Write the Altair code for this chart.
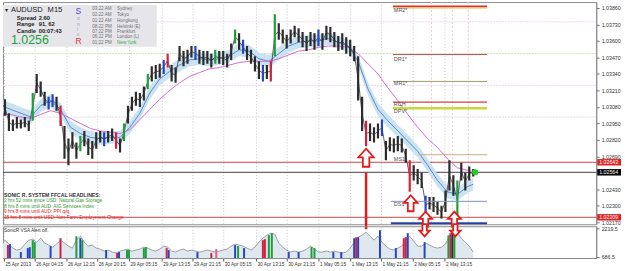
import altair as alt
import pandas as pd

FONT = "Liberation Sans"

# ---------------- price bars (15-min bars, sampled every 4 bars) ----------------
bar_x = list(range(0, 480, 4))
bar_hi = [1.0316, 1.0314, 1.0303, 1.0298, 1.0300, 1.0298, 1.0300, 1.0297, 1.0319, 1.0334,
          1.0328, 1.0320, 1.0316, 1.0318, 1.0316, 1.0309, 1.0293, 1.0283, 1.0288, 1.0280,
          1.0285, 1.0289, 1.0283, 1.0281, 1.0288, 1.0289, 1.0288, 1.0289, 1.0291, 1.0288,
          1.0283, 1.0295, 1.0309, 1.0316, 1.0320, 1.0319, 1.0324, 1.0334, 1.0340, 1.0341,
          1.0342, 1.0345, 1.0350, 1.0341, 1.0339, 1.0356, 1.0352, 1.0353, 1.0356, 1.0356,
          1.0353, 1.0352, 1.0352, 1.0350, 1.0353, 1.0352, 1.0352, 1.0350, 1.0358, 1.0369,
          1.0366, 1.0361, 1.0356, 1.0353, 1.0348, 1.0344, 1.0341, 1.0341, 1.0344, 1.0381,
          1.0374, 1.0369, 1.0365, 1.0369, 1.0372, 1.0370, 1.0367, 1.0364, 1.0367, 1.0366,
          1.0369, 1.0366, 1.0372, 1.0371, 1.0367, 1.0364, 1.0366, 1.0363, 1.0361, 1.0356,
          1.0348, 1.0316, 1.0297, 1.0295, 1.0292, 1.0295, 1.0298, 1.0281, 1.0284, 1.0283,
          1.0285, 1.0283, 1.0275, 1.0266, 1.0262, 1.0259, 1.0256, 1.0238, 1.0237, 1.0237,
          1.0233, 1.0230, 1.0242, 1.0266, 1.0254, 1.0250, 1.0264, 1.0256, 1.0261, 1.0259]
bar_lo = [1.0306, 1.0301, 1.0289, 1.0289, 1.0291, 1.0291, 1.0292, 1.0289, 1.0297, 1.0319,
          1.0316, 1.0309, 1.0306, 1.0308, 1.0305, 1.0293, 1.0267, 1.0262, 1.0275, 1.0267,
          1.0273, 1.0277, 1.0270, 1.0267, 1.0275, 1.0280, 1.0277, 1.0280, 1.0281, 1.0275,
          1.0272, 1.0281, 1.0295, 1.0305, 1.0309, 1.0308, 1.0313, 1.0322, 1.0328, 1.0330,
          1.0331, 1.0334, 1.0339, 1.0328, 1.0327, 1.0344, 1.0340, 1.0342, 1.0347, 1.0345,
          1.0342, 1.0341, 1.0342, 1.0339, 1.0342, 1.0342, 1.0341, 1.0339, 1.0345, 1.0358,
          1.0353, 1.0350, 1.0345, 1.0342, 1.0336, 1.0330, 1.0328, 1.0330, 1.0328, 1.0348,
          1.0361, 1.0358, 1.0354, 1.0358, 1.0363, 1.0359, 1.0355, 1.0352, 1.0356, 1.0353,
          1.0356, 1.0353, 1.0361, 1.0359, 1.0355, 1.0352, 1.0353, 1.0350, 1.0348, 1.0344,
          1.0313, 1.0289, 1.0277, 1.0281, 1.0280, 1.0283, 1.0285, 1.0266, 1.0273, 1.0272,
          1.0273, 1.0272, 1.0264, 1.0241, 1.0250, 1.0247, 1.0244, 1.0224, 1.0227, 1.0225,
          1.0223, 1.0220, 1.0225, 1.0242, 1.0238, 1.0220, 1.0250, 1.0242, 1.0250, 1.0253]
col_x = [32, 48, 52, 60, 80, 104, 116, 124, 148, 164, 168, 196, 216, 236, 244, 264, 272, 276,
         320, 368, 384, 412, 428, 460]
col_c = ["g", "b", "b", "r", "g", "b", "r", "g", "g", "b", "r", "b", "g", "g", "b", "b", "r", "g",
         "b", "r", "b", "r", "b", "g"]

# ---------------- moving-average band and slow MA ----------------
ma_x = list(range(0, 480, 10)) + [476]
band_mid = [1.0309, 1.0306, 1.0303, 1.0300, 1.0309, 1.0313, 1.0306, 1.0292, 1.0287, 1.0284,
            1.0283, 1.0284, 1.0284, 1.0292, 1.0303, 1.0319, 1.0330, 1.0336, 1.0341, 1.0345,
            1.0346, 1.0345, 1.0346, 1.0348, 1.0353, 1.0352, 1.0346, 1.0344, 1.0350, 1.0356,
            1.0359, 1.0360, 1.0360, 1.0362, 1.0359, 1.0356, 1.0344, 1.0322, 1.0306, 1.0297,
            1.0289, 1.0281, 1.0273, 1.0262, 1.0250, 1.0241, 1.0239, 1.0245, 1.0247]
band_top = [1.0314, 1.0311, 1.0308, 1.0305, 1.0314, 1.0318, 1.0311, 1.0297, 1.0292, 1.0289,
            1.0288, 1.0289, 1.0289, 1.0297, 1.0308, 1.0324, 1.0335, 1.0341, 1.0346, 1.0350,
            1.0351, 1.0350, 1.0351, 1.0353, 1.0358, 1.0357, 1.0351, 1.0349, 1.0355, 1.0361,
            1.0364, 1.0365, 1.0365, 1.0367, 1.0364, 1.0361, 1.0349, 1.0327, 1.0311, 1.0302,
            1.0294, 1.0286, 1.0278, 1.0267, 1.0255, 1.0246, 1.0244, 1.0250, 1.0252]
band_bot = [1.0304, 1.0301, 1.0298, 1.0295, 1.0304, 1.0308, 1.0301, 1.0287, 1.0282, 1.0279,
            1.0278, 1.0279, 1.0279, 1.0287, 1.0298, 1.0314, 1.0325, 1.0331, 1.0336, 1.0340,
            1.0341, 1.0340, 1.0341, 1.0343, 1.0348, 1.0347, 1.0341, 1.0339, 1.0345, 1.0351,
            1.0354, 1.0355, 1.0355, 1.0357, 1.0354, 1.0351, 1.0339, 1.0317, 1.0301, 1.0292,
            1.0284, 1.0276, 1.0268, 1.0257, 1.0245, 1.0236, 1.0234, 1.0240, 1.0242]
slow_ma = [1.0302, 1.0302, 1.0300, 1.0299, 1.0302, 1.0305, 1.0303, 1.0299, 1.0295, 1.0291,
           1.0289, 1.0288, 1.0287, 1.0290, 1.0298, 1.0306, 1.0314, 1.0321, 1.0327, 1.0332,
           1.0335, 1.0338, 1.0339, 1.0341, 1.0343, 1.0344, 1.0344, 1.0344, 1.0346, 1.0349,
           1.0352, 1.0353, 1.0355, 1.0356, 1.0356, 1.0355, 1.0350, 1.0342, 1.0334, 1.0323,
           1.0313, 1.0302, 1.0292, 1.0283, 1.0276, 1.0267, 1.0260, 1.0258, 1.0257]

# ---------------- pivot levels ----------------
lv_price = [1.03873, 1.03860, 1.03493, 1.03281, 1.03117, 1.03070, 1.02703, 1.02335, 1.02163]
lv_x0 = [395, 395, 395, 395, 395, 395, 422, 393, 393]
lv_x1 = [490, 490, 490, 490, 490, 490, 490, 490, 490]
lv_color = ["#e03030", "#d8c040", "#c05050", "#a09a60", "#d84040", "#c8d83a", "#c8b078", "#8090b8", "#2840a0"]
lv_width = [2, 1.2, 1, 1, 1.2, 2.5, 1, 1, 2]
lab_text = ["MR2*", "DR1*", "MR1*", "RCH", "DPV*", "MS1", "DS1"]
lab_price = [1.03844, 1.03461, 1.03266, 1.03102, 1.03047, 1.02671, 1.02312]
lab_x = [396, 396, 396, 396, 396, 396, 396]

full_price = [1.02643, 1.02564, 1.02209]
full_color = ["#c84848", "#404040", "#c84848"]
faint_price = [1.03751, 1.03500, 1.03250, 1.03000]
faint_color = ["#f2d2f0", "#c0e4b0", "#f2d2f0", "#dcdcdc"]
vsep_x = [434, 455, 471]

arrow_x = [368, 413, 428, 457]
arrow_p = [1.02679, 1.02320, 1.02194, 1.02194]
arrow_s = [330, 260, 230, 230]
signal_x = [368]
signal_p = [1.02564]
dot_x = [478]
dot_p = [1.02564]

box_price = [1.02643, 1.02564, 1.02209]
box_text = ["1.02643", "1.02564", "1.02209"]
box_color = ["#e02424", "#000000", "#e02424"]

y_ticks = [1.0386, 1.0373, 1.0360, 1.0347, 1.0334, 1.0321, 1.0308, 1.0295, 1.0282, 1.0269,
           1.0243, 1.0230, 1.0217]

# ---------------- volume panel ----------------
vol_x = list(range(0, 480, 4))
vol_v = [1267, 1585, 1373, 1161, 1056, 1109, 1373, 1585, 1638, 1479,
         1690, 1426, 1320, 1214, 1373, 1585, 1426, 1267, 1161, 1585,
         1796, 1479, 1267, 1320, 1161, 1109, 1003, 1056, 950, 897,
         1003, 1056, 1109, 1003, 1056, 1109, 1214, 1161, 1056, 1003,
         1109, 1267, 1214, 1003, 950, 1056, 1109, 1003, 1056, 1003,
         950, 1003, 1056, 1003, 950, 1003, 1056, 1109, 1267, 1373,
         1320, 1267, 1161, 1056, 1214, 1479, 1690, 1849, 1955, 1902,
         1426, 1214, 1056, 950, 1003, 950, 1003, 1109, 1267, 1109,
         950, 950, 1003, 950, 1003, 950, 897, 950, 1161, 1479,
         1743, 1849, 2008, 1796, 1585, 1796, 1479, 1267, 1109, 1056,
         1161, 1267, 1585, 1796, 1532, 1267, 1267, 1426, 1320, 1214,
         1161, 1214, 1373, 1796, 2061, 1955, 1690, 1479, 1267, 950]
vb_x = [7, 9, 20, 27, 29, 32, 34, 50, 60, 76, 80, 82, 106, 117, 119, 127, 129, 144, 146, 167,
        169, 198, 212, 217, 236, 239, 245, 264, 266, 270, 273, 290, 300, 313, 316, 335, 343,
        356, 358, 360, 382, 398, 406, 408, 410, 427, 451, 453, 455, 457]
vb_v = [1320, 1373, 950, 1161, 1214, 1585, 1479, 1267, 1690, 1796, 1690, 1585, 1056, 897, 950,
        1056, 1056, 1161, 1214, 1161, 1056, 950, 897, 1109, 1320, 1267, 1161, 1585, 1638, 1849,
        1955, 950, 950, 1214, 1161, 950, 950, 1690, 1743, 1743, 2114, 1161, 1690, 1743, 1955,
        1479, 1849, 1955, 2114, 2219]
vb_c = ["r", "b", "b", "b", "b", "g", "g", "b", "r", "g", "b", "g", "b", "r", "b", "g", "g", "g",
        "g", "r", "b", "b", "r", "p", "b", "g", "b", "r", "r", "g", "g", "b", "b", "g", "g", "b",
        "b", "b", "r", "b", "b", "b", "r", "r", "b", "b", "g", "r", "n", "g"]
vol_ticks = [686.5, 2219.5]
varrow_x = [427, 458]
varrow_v = [2113, 2113]

time_pos = [3, 34, 66, 97, 129, 162, 193, 224, 257, 288, 320, 352, 383, 415, 447]
time_lab = ["25 Apr 2013", "26 Apr 04:15", "26 Apr 12:15", "26 Apr 20:15", "29 Apr 05:15",
            "29 Apr 13:15", "29 Apr 21:15", "30 Apr 05:15", "30 Apr 13:15", "30 Apr 21:15",
            "1 May 05:15", "1 May 13:15", "1 May 21:15", "2 May 05:15", "2 May 13:15"]

headline_text = ["SONIC R. SYSTEM  FFCAL HEADLINES:",
                 "2 hrs 52 mins since USD: Natural Gas Storage",
                 "8 hrs 8 mins until AUD: AIG Services Index",
                 "9 hrs 8 mins until AUD: PPI q/q",
                 "15 hrs 8 mins until USD: Non-Farm Employment Change"]
headline_color = ["#333333", "#2f9a2f", "#2f9a2f", "#e02020", "#e02020"]

session_time = ["03:22 AM", "02:22 AM", "01:22 AM", "08:22 PM", "07:22 PM", "06:22 PM", "01:22 PM"]
session_city = ["Sydney", "Tokyo", "Hongkong", "Helsinki  (E)", "Frankfurt", "London  (L)", "New York"]

# ---------------- build ----------------
W, H, VH = 598, 224, 32
CMAP = {"n": "#2b2b2b", "g": "#1f9e3c", "b": "#2444c4", "r": "#d42040", "p": "#e2608a"}
xs = alt.Scale(domain=[2, 600], nice=False, zero=False)
ps = alt.Scale(domain=[1.02154, 1.03907], nice=False, zero=False)
vs = alt.Scale(domain=[633, 2325], nice=False, zero=False)

cmap_col = dict(zip(col_x, col_c))
bars = pd.DataFrame({"x": bar_x, "hi": bar_hi, "lo": bar_lo})
bars["c"] = [CMAP[cmap_col.get(x, "n")] for x in bar_x]
bars["mid"] = (bars["hi"] + bars["lo"]) / 2
ma = pd.DataFrame({"x": ma_x, "mid": band_mid, "top": band_top, "bot": band_bot, "slow": slow_ma})
lv = pd.DataFrame({"p": lv_price, "x0": lv_x0, "x1": lv_x1, "c": lv_color, "w": lv_width})
labs = pd.DataFrame({"t": lab_text, "p": lab_price, "x": lab_x})
full = pd.DataFrame({"p": full_price, "c": full_color})
faint = pd.DataFrame({"p": faint_price, "c": faint_color})
vsep = pd.DataFrame({"x": vsep_x})
arrows = pd.DataFrame({"x": arrow_x, "p": arrow_p, "s": arrow_s})
sig = pd.DataFrame({"x": signal_x, "p": signal_p})
dot = pd.DataFrame({"x": dot_x, "p": dot_p})
boxes = pd.DataFrame({"p": box_price, "t": box_text, "c": box_color})
one = pd.DataFrame({"a": [0]})

label_expr = "[" + ",".join("'%s'" % s for s in time_lab) + "][indexof([" + \
    ",".join(str(v) for v in time_pos) + "], datum.value)]"

x_grid_axis = alt.Axis(values=time_pos, grid=True, gridDash=[1, 2], gridColor="#c4c4c4",
                       labels=False, ticks=False, domain=False, title=None)
y_axis = alt.Axis(orient="right", values=y_ticks, format=".5f", labelFontSize=5.3, labelFont=FONT,
                  labelColor="#333333", tickSize=3, tickColor="#777777", domainColor="#8c8c8c",
                  labelPadding=2, grid=False, title=None)
x_axis = alt.Axis(values=time_pos, labelExpr=label_expr, labelAlign="left", labelBaseline="top",
                  labelFontSize=4.8, labelFont=FONT, labelColor="#333333", tickSize=3,
                  tickColor="#555555", labelPadding=1, labelOffset=1, domainColor="#8c8c8c",
                  grid=True, gridDash=[1, 2], gridColor="#c4c4c4", title=None,
                  labelOverlap=False, labelFlush=False, labelBound=False)
v_axis = alt.Axis(orient="right", values=vol_ticks, format=".1f", labelFontSize=5.3, labelFont=FONT,
                  labelColor="#333333", tickSize=3, tickColor="#777777", domainColor="#8c8c8c",
                  labelPadding=2, grid=False, title=None)

ARROW_UP = "M0,-1 L0.85,-0.05 L0.36,-0.05 L0.36,1 L-0.36,1 L-0.36,-0.05 L-0.85,-0.05 Z"
ARROW_DN = "M0,1 L0.85,0.05 L0.36,0.05 L0.36,-1 L-0.36,-1 L-0.36,0.05 L-0.85,0.05 Z"


def X(f="x"):
    return alt.X(f + ":Q", scale=xs, axis=x_grid_axis)


def P(f="p"):
    return alt.Y(f + ":Q", scale=ps, axis=y_axis)


def VX(f="x"):
    return alt.X(f + ":Q", scale=xs, axis=x_axis)


def VY(f="v"):
    return alt.Y(f + ":Q", scale=vs, axis=v_axis)


def txt(s, x, y, size=5.5, color="#333333", weight="normal", align="left"):
    return alt.Chart(one).mark_text(text=s, align=align, baseline="middle", fontSize=size,
                                    color=color, fontWeight=weight, font=FONT).encode(
        x=alt.value(x), y=alt.value(y))


layers = []
layers.append(alt.Chart(faint).mark_rule(strokeWidth=1, strokeDash=[2, 1]).encode(
    y=P(), color=alt.Color("c:N", scale=None)))
layers.append(alt.Chart(vsep).mark_rule(strokeWidth=1, strokeDash=[2, 2], color="#ecc8d6").encode(x=X()))
layers.append(alt.Chart(full).mark_rule(strokeWidth=1).encode(y=P(), color=alt.Color("c:N", scale=None)))
layers.append(alt.Chart(ma).mark_area(color="#c6e2f0", opacity=0.95, clip=True).encode(
    x=X(), y=P("top"), y2="bot:Q"))
layers.append(alt.Chart(ma).mark_line(color="#4c6fc2", strokeWidth=0.8, clip=True).encode(x=X(), y=P("mid")))
layers.append(alt.Chart(ma).mark_line(color="#d36ad8", strokeWidth=1, clip=True).encode(x=X(), y=P("slow")))
layers.append(alt.Chart(bars).mark_line(color="#3a3a3a", strokeWidth=0.8, clip=True).encode(x=X(), y=P("mid")))
layers.append(alt.Chart(bars).mark_rule(strokeWidth=2.2, clip=True).encode(
    x=X(), y=P("hi"), y2="lo:Q", color=alt.Color("c:N", scale=None)))
layers.append(alt.Chart(lv).mark_rule().encode(
    x=X("x0"), x2="x1:Q", y=P(), color=alt.Color("c:N", scale=None),
    strokeWidth=alt.StrokeWidth("w:Q", scale=None)))
layers.append(alt.Chart(labs).mark_text(align="left", baseline="middle", fontSize=5.5, font=FONT,
                                        color="#505050").encode(x=X(), y=P(), text="t:N"))
layers.append(alt.Chart(sig).mark_rule(color="#e01c1c", strokeWidth=2.5).encode(
    x=X(), y=P(), y2=alt.value(H + 5)))
layers.append(alt.Chart(arrows).mark_point(shape=ARROW_UP, filled=True, fill="#ffffff", stroke="#e01c1c",
                                           strokeWidth=1.8, opacity=1).encode(
    x=X(), y=P(), size=alt.Size("s:Q", scale=None)))
layers.append(alt.Chart(dot).mark_circle(color="#22cc22", size=38, opacity=1).encode(x=X(), y=P()))
layers.append(alt.Chart(boxes).mark_rule(strokeWidth=6.5).encode(
    x=alt.value(W + 1), x2=alt.value(W + 25), y=P(), color=alt.Color("c:N", scale=None)))
layers.append(alt.Chart(boxes).mark_text(align="left", baseline="middle", fontSize=5.3, font=FONT,
                                         color="#ffffff").encode(x=alt.value(W + 3), y=P(), text="t:N"))

# info box
layers.append(alt.Chart(one).mark_rect(color="#e6e6ea").encode(
    x=alt.value(0), x2=alt.value(155), y=alt.value(3), y2=alt.value(45)))
layers.append(txt("\u25be", 2, 8.5, 6, "#222222"))
layers.append(txt("AUDUSD", 8, 8.5, 7.6, "#222222"))
layers.append(txt("M15", 45, 8.5, 7.6, "#222222"))
for lbl, val, yy in [("Spread", "2.60", 16), ("Range", "91, 62", 22.5), ("Candle", "00:07:43", 29)]:
    layers.append(txt(lbl, 14, yy, 5.8, "#222222", "bold"))
    layers.append(txt(val, 36, yy, 5.8, "#222222", "bold"))
layers.append(txt("1.0256", 8, 38, 12.5, "#23a040"))
layers.append(txt("S", 73, 9.5, 8.5, "#4848cc"))
for ch, yy in [("o", 16), ("n", 22), ("i", 27.5), ("c", 32.5)]:
    layers.append(txt(ch, 74.5, yy, 5, "#a898c0"))
layers.append(txt("R", 73, 39.5, 8.5, "#e03040"))
row_y = [7.3, 13.3, 19.3, 24.7, 30, 35.7, 41.3]
for i in range(7):
    cc = "#3aa83a" if i == 6 else "#707070"
    layers.append(txt(session_time[i], 90, row_y[i], 4.6, "#707070"))
    layers.append(txt(session_city[i], 115, row_y[i], 4.6, cc))
hl_y = [194, 200.7, 206.7, 212, 217.7]
for i in range(5):
    layers.append(txt(headline_text[i], 1, hl_y[i], 5.2 if i == 0 else 4.8, headline_color[i],
                      "bold" if i == 0 else "normal"))

price = alt.layer(*layers).properties(width=W, height=H)

# volume panel
vol = pd.DataFrame({"x": vol_x, "v": vol_v})
vbars = pd.DataFrame({"x": vb_x, "v": vb_v})
vbars["c"] = [CMAP[c] for c in vb_c]
varrows = pd.DataFrame({"x": varrow_x, "v": varrow_v})
vlayers = [
    alt.Chart(vol).mark_area(color="#dfe7ef", clip=True).encode(x=VX(), y=VY(), y2=alt.value(VH)),
    alt.Chart(vol).mark_line(color="#8c8c8c", strokeWidth=0.8, clip=True).encode(x=VX(), y=VY()),
    alt.Chart(vbars).mark_rule(strokeWidth=2).encode(
        x=VX(), y=VY(), y2=alt.value(VH), color=alt.Color("c:N", scale=None)),
    alt.Chart(varrows).mark_point(shape=ARROW_DN, filled=True, fill="#ffffff", stroke="#e01c1c",
                                  strokeWidth=1.8, size=150, opacity=1).encode(x=VX(), y=VY()),
    txt("SonicR VSA    Alert off.", 1, 4.5, 4.8, "#333333"),
]
volume = alt.layer(*vlayers).properties(width=W, height=VH)

chart = alt.vconcat(price, volume, spacing=2, bounds="flush").properties(
    padding={"left": 2, "top": 0, "right": 0, "bottom": 0}, background="#ffffff"
).configure_view(stroke="#8c8c8c", strokeWidth=1)

chart.save("out.html", embed_options={"renderer": "svg", "actions": False})
